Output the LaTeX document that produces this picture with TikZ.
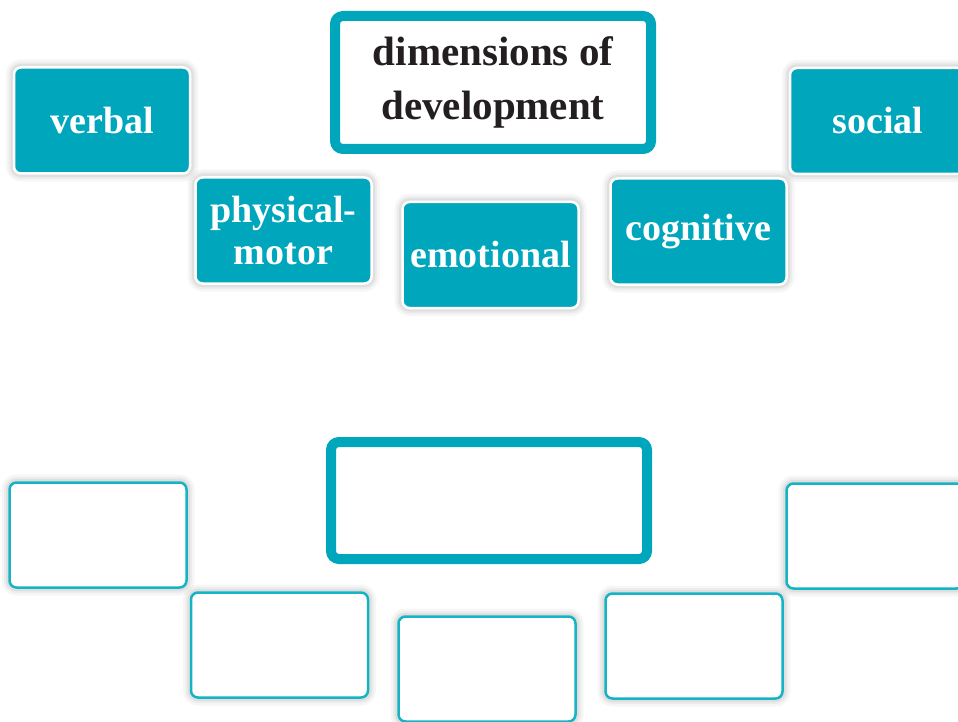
\documentclass[tikz,border=0pt]{standalone}
\usepackage{fontspec}
\setmainfont{Liberation Serif}
\definecolor{teal1}{RGB}{0,167,188}
\definecolor{teal2}{RGB}{20,180,196}
\definecolor{ink}{RGB}{35,31,32}
\tikzset{
  softshadow/.style={
    preaction={draw=black, fill=none, draw opacity=0.035, line width=16pt},
    preaction={draw=black, fill=none, draw opacity=0.04, line width=11pt},
    preaction={draw=black, fill=none, draw opacity=0.05, line width=7pt}},
  fillbox/.style={softshadow, draw=white, line width=2.5pt, fill=teal1, rounded corners=7pt,
    minimum width=176pt, minimum height=106pt, inner sep=0pt, align=center,
    text=white, font=\bfseries\fontsize{38}{42}\selectfont},
  emptybox/.style={softshadow, draw=teal2, line width=2.5pt, fill=white, rounded corners=7pt,
    minimum width=177pt, minimum height=105pt, inner sep=0pt},
  titlebox/.style={draw=teal1, line width=10pt, fill=white, rounded corners=8pt,
    minimum width=316pt, minimum height=#1, inner sep=0pt, align=center,
    text=ink, font=\bfseries\fontsize{41}{54}\selectfont},
}
\begin{document}
\begin{tikzpicture}[x=1pt,y=-1pt]
\useasboundingbox[fill=white] (0,0) rectangle (958,722);
% top
\node[fillbox] (verbal) at (102,120.5) {verbal};
\node[titlebox=133pt] (title) at (493,82.5) {dimensions of\\development};
\node[fillbox] (phys) at (283.5,230.5) {physical-\\motor};
\node[fillbox] (emo) at (490.5,255) {emotional};
\node[fillbox] (cog) at (698.5,231.5) {cognitive};
\node[fillbox] (soc) at (878,121) {social};
% bottom
\node[emptybox] (b1) at (98,535) {};
\node[titlebox=117pt] (btitle) at (489,500.5) {};
\node[emptybox] (b2) at (279.5,645) {};
\node[emptybox] (b3) at (487,669) {};
\node[emptybox] (b4) at (694,646) {};
\node[emptybox] (b5) at (875,536) {};
\end{tikzpicture}
\end{document}
